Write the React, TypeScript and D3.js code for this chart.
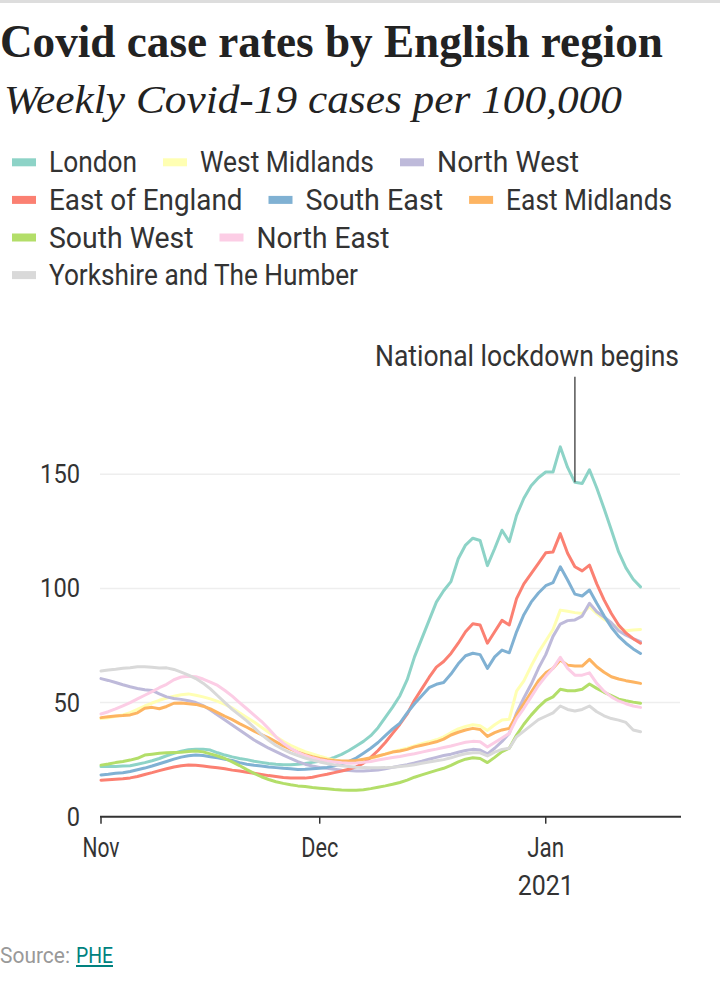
import React from "react";
import * as d3 from "d3";

// ---------- DATA ----------
const regions = [
  "London",
  "West Midlands",
  "North West",
  "East of England",
  "South East",
  "East Midlands",
  "South West",
  "North East",
  "Yorkshire and The Humber",
];

const startDate = "2020-11-01";

const london = [22, 22, 22, 22.2, 22.3, 23, 23.7, 24.5, 25.5, 26.7, 27.8, 28.7, 29.3, 29.6, 29.6, 29.2, 28, 27, 26.2, 25.5, 25, 24.3, 23.8, 23.3, 23, 22.8, 22.8, 23, 23.3, 23.8, 24.3, 25, 26, 27.3, 29, 31, 33, 35.5, 39, 43.5, 48, 53, 60, 70, 78, 86, 94, 99, 103, 113, 119, 122, 121, 110, 117.5, 125.5, 120.5, 132, 139.5, 145, 148.5, 151, 151, 162, 153, 146.5, 146, 152, 144, 135, 125.6, 116, 109, 104, 100.7];
const westMidlands = [43, 43.3, 44, 44.6, 45.6, 47, 48.5, 49.8, 51, 52, 52.8, 53.4, 53.8, 53.2, 52.5, 51.6, 50.5, 49.2, 47.6, 45.5, 43.5, 41.5, 39.2, 37, 35, 33, 31.3, 29.8, 28.5, 27.5, 26.5, 25.6, 24.8, 24.2, 23.8, 23.7, 24.8, 25.5, 26.5, 27.5, 28.5, 29.2, 30, 31, 32, 32.8, 33.7, 35, 36.8, 38.5, 39.5, 40.3, 39.8, 37.8, 40.3, 42.4, 42.7, 55, 59.5, 66, 72, 77, 82, 90.5, 90, 89.4, 89, 92, 89, 86.5, 84.5, 83, 81.5, 81.8, 82];
const northWest = [60.5, 59.7, 58.8, 57.8, 56.9, 56.2, 55.6, 55.3, 53.8, 52.5, 51.8, 51.4, 50.8, 50, 48.7, 46.7, 44.5, 42.4, 40.2, 38, 35.8, 33.6, 31.8, 30, 28.5, 27, 25.5, 24.1, 23, 22.2, 21.6, 21.2, 20.8, 20.4, 20.2, 20, 20, 20.2, 20.5, 21, 21.6, 22.2, 22.8, 23.5, 24.3, 25.2, 26, 26.8, 27.4, 28.2, 29, 29.5, 29.2, 27.5, 30, 33, 36.5, 45.5, 52, 58, 65, 71, 79, 84.4, 85.9, 86.2, 87.9, 93.5, 89.8, 87.5, 85, 81.5, 79.5, 78, 76.7];
const eastOfEngland = [16, 16.2, 16.4, 16.6, 17, 17.6, 18.5, 19.3, 20.2, 21, 21.8, 22.3, 22.6, 22.5, 22.2, 21.8, 21.4, 21, 20.4, 20, 19.5, 19, 18.5, 18, 17.6, 17.2, 17, 16.9, 16.9, 17.3, 18, 18.6, 19.3, 20, 20.8, 21.8, 23.5, 26, 29, 32.5, 36.5, 40.5, 45, 51, 56, 61, 65.5, 68, 71.5, 76, 81, 84.5, 84, 76, 81, 86, 84, 95.5, 102, 106.5, 111, 115.6, 116, 124, 115.4, 109.5, 107.7, 110.2, 102, 95, 89, 84, 80.5, 78, 76];
const southEast = [18.3, 18.6, 19, 19.3, 19.8, 20.6, 21.3, 22.2, 23.2, 24.2, 25.2, 26.1, 26.7, 27, 26.8, 26.3, 25.8, 25.2, 24.6, 23.7, 23, 22.5, 22.2, 21.8, 21.5, 21.2, 21, 20.7, 20.8, 21, 21.2, 21.6, 22.3, 23.2, 24.2, 25.7, 27.8, 30, 32.5, 35.5, 38.5, 41, 45.5, 49.5, 53, 56.5, 58, 58.8, 62.5, 67, 70.5, 71.6, 71, 65, 70, 73, 71.8, 81, 88.5, 94, 98, 101.2, 102.5, 109.5, 103.7, 97.5, 96.7, 99.3, 93.5, 88, 83, 79, 76, 73.5, 71.5];
const eastMidlands = [43.4, 43.8, 44.1, 44.3, 44.6, 45.5, 47.5, 47.9, 47.3, 48.3, 49.7, 49.8, 49.5, 49.2, 48.4, 47.2, 45.6, 44, 42.5, 40.8, 39.2, 37.5, 36, 34.5, 32.8, 31, 29.6, 28.3, 27.2, 26.3, 25.5, 25, 24.6, 24.4, 24.4, 24.6, 25.2, 25.8, 26.6, 27.4, 28.3, 28.8, 29.5, 30.6, 31.3, 32, 32.8, 34, 35.8, 37, 38, 38.7, 38.2, 35.2, 36.8, 38, 38.7, 44.5, 49.5, 54.5, 59.5, 63, 65, 68.6, 66.4, 66, 66, 68.9, 65.7, 63.3, 61.3, 60.3, 59.6, 59, 58.4];
const southWest = [22.6, 23.1, 23.7, 24.2, 24.8, 25.6, 27, 27.4, 27.8, 28, 28.1, 28.2, 28.6, 28.8, 28.4, 27.5, 26.6, 25.5, 24, 22.4, 20.6, 19, 17.5, 16.3, 15.3, 14.6, 14, 13.5, 13.2, 12.8, 12.5, 12.2, 11.9, 11.7, 11.6, 11.6, 11.8, 12.3, 12.9, 13.5, 14.2, 15, 16, 17.3, 18.3, 19.3, 20.3, 21.2, 22.5, 24, 25.2, 25.8, 25.5, 23.7, 26, 28.5, 30, 35.8, 40.5, 44.5, 48, 51, 52.5, 55.8, 55.2, 55.2, 55.8, 58.1, 56.2, 54.5, 53, 51.5, 50.8, 50.2, 49.7];
const northEast = [45, 46, 47.2, 48.6, 50, 51.6, 53.2, 54.8, 56.5, 58, 60, 61.2, 61.5, 61.3, 60.3, 59, 57.5, 55.3, 52.8, 50, 47.3, 44.5, 41.8, 38.5, 35, 32.2, 30, 28.2, 26.8, 25.8, 25, 24.4, 24, 23.6, 23.4, 23.5, 23.8, 24.2, 24.8, 25.4, 25.9, 26.4, 27, 27.6, 28.3, 29, 29.6, 30.3, 31, 31.8, 32.6, 33, 32.8, 30.5, 32.5, 34.5, 36.5, 43, 47.5, 52.5, 57.5, 61.5, 65, 69.8, 65, 62, 62, 63, 58.4, 55, 52.5, 50.7, 49.5, 48.5, 47.9];
const yorkshire = [63.8, 64.3, 64.6, 65, 65.3, 65.7, 65.7, 65.5, 65.1, 65.2, 64.5, 63.3, 62, 60.5, 58.5, 56, 53, 50, 47, 44.5, 42, 39, 36, 33.5, 31.2, 29.5, 28, 26.8, 25.7, 24.8, 24, 23.3, 22.7, 22.3, 22, 21.7, 21.5, 21.4, 21.4, 21.5, 21.7, 22, 22.3, 22.8, 23.4, 24, 24.5, 25, 25.8, 26.8, 27.6, 28, 28, 26.6, 28.3, 29.5, 30, 35, 37.5, 40, 42.5, 44, 45.5, 48.5, 47, 46.3, 47, 48.5, 46, 44.2, 43, 42.3, 41.3, 38, 37.2];

const seriesValues = [london, westMidlands, northWest, eastOfEngland, southEast, eastMidlands, southWest, northEast, yorkshire];

const yTicks = [0, 50, 100, 150];
const xTickDates = ["2020-11-01", "2020-12-01", "2021-01-01"];
const xTickLabels = ["Nov", "Dec", "Jan"];
const yearLabel = "2021";
const lockdownDate = "2021-01-05";
const lockdownLabel = "National lockdown begins";

const title = "Covid case rates by English region";
const subtitle = "Weekly Covid-19 cases per 100,000";

// ---------- STYLE ----------
const colors = d3.schemeSet3.slice(0, 9);
const legendTextWidths: Record<string, number> = {
  "London": 88,
  "West Midlands": 174,
  "North West": 142,
  "East of England": 193.5,
  "South East": 137.6,
  "East Midlands": 166,
  "South West": 144.5,
  "North East": 133,
  "Yorkshire and The Humber": 309,
};
const SANS = "Roboto, 'Liberation Sans', sans-serif";
const SERIF = "'Liberation Serif', 'DejaVu Serif', serif";
const TEXT = "#333333";

export default function App() {
  const width = 720;
  const height = 992;
  const parse = d3.utcParse("%Y-%m-%d");
  const start = parse(startDate)!;
  const dates = seriesValues[0].map((_, i) => d3.utcDay.offset(start, i));

  const x = d3
    .scaleUtc()
    .domain([start, d3.utcHour.offset(parse("2021-01-19")!, 10)])
    .range([101, 680]);
  const y = d3.scaleLinear().domain([0, 150]).range([816.7, 474.3]);

  const line = d3
    .line<number>()
    .x((_, i) => x(dates[i]))
    .y((v) => y(v))
    .curve(d3.curveLinear);

  // legend layout
  const legendItems: { name: string; color: string; x: number; row: number }[] = [];
  let cx = 12;
  let row = 0;
  regions.forEach((name, i) => {
    const w = 24 + 13 + legendTextWidths[name];
    if (cx + w > 700) {
      row += 1;
      cx = 12;
    }
    legendItems.push({ name, color: colors[i], x: cx, row });
    cx += w + 26;
  });
  const rowBaseline = (r: number) => 172.3 + r * 37.6;

  const lockDate = parse(lockdownDate)!;
  const lockX = x(lockDate);
  const lockIdx = d3.utcDay.count(start, lockDate);
  const lockY = y(london[lockIdx]);

  return (
    <svg
      width={width}
      height={height}
      style={{ position: "absolute", left: 0, top: 0, background: "#fff" }}
    >
      <rect x={0} y={0} width={width} height={height} fill="#fff" />
      <rect x={0} y={0} width={width} height={3} fill="#dddddd" />

      <text
        x={0}
        y={57}
        fontFamily={SERIF}
        fontWeight={700}
        fontSize={47}
        fill="#222"
        textLength={663}
        lengthAdjust="spacingAndGlyphs"
      >
        {title}
      </text>
      <text
        x={4}
        y={113}
        fontFamily={SERIF}
        fontStyle="italic"
        fontSize={41}
        fill="#222"
        textLength={618}
        lengthAdjust="spacingAndGlyphs"
      >
        {subtitle}
      </text>

      {legendItems.map((it) => (
        <g key={it.name}>
          <rect x={it.x} y={rowBaseline(it.row) - 14} width={24} height={8} fill={it.color} />
          <text
            x={it.x + 37}
            y={rowBaseline(it.row)}
            fontFamily={SANS}
            fontSize={30}
            fill={TEXT}
            textLength={legendTextWidths[it.name]}
            lengthAdjust="spacingAndGlyphs"
          >
            {it.name}
          </text>
        </g>
      ))}

      {/* gridlines */}
      {yTicks
        .filter((t) => t > 0)
        .map((t) => (
          <line key={t} x1={100} x2={680} y1={y(t)} y2={y(t)} stroke="#eeeeee" strokeWidth={1.5} />
        ))}
      {yTicks.map((t) => (
        <text
          key={t}
          x={80}
          y={y(t) + 9}
          textAnchor="end"
          fontFamily={SANS}
          fontSize={26}
          fill={TEXT}
          textLength={String(t).length * 13.3}
          lengthAdjust="spacingAndGlyphs"
        >
          {t}
        </text>
      ))}

      {/* lines */}
      {seriesValues.map((vals, i) => (
        <path
          key={regions[i]}
          d={line(vals) || ""}
          fill="none"
          stroke={colors[i]}
          strokeWidth={3}
          strokeLinejoin="round"
          strokeLinecap="round"
        />
      ))}

      {/* x axis */}
      <line x1={100} x2={681} y1={y(0)} y2={y(0)} stroke="#333" strokeWidth={2} />
      {xTickDates.map((d, i) => {
        const xx = x(parse(d)!);
        return (
          <g key={d}>
            <line x1={xx} x2={xx} y1={y(0)} y2={y(0) + 7} stroke="#333" strokeWidth={1.5} />
            <text
              x={xx}
              y={857}
              textAnchor="middle"
              fontFamily={SANS}
              fontSize={27}
              fill={TEXT}
              textLength={37}
              lengthAdjust="spacingAndGlyphs"
            >
              {xTickLabels[i]}
            </text>
          </g>
        );
      })}
      <text
        x={x(parse(xTickDates[2])!)}
        y={895}
        textAnchor="middle"
        fontFamily={SANS}
        fontSize={27}
        fill={TEXT}
        textLength={56}
        lengthAdjust="spacingAndGlyphs"
      >
        {yearLabel}
      </text>

      {/* annotation */}
      <line x1={lockX} x2={lockX} y1={376.7} y2={lockY} stroke="#555" strokeWidth={1.5} />
      <text
        x={679}
        y={366}
        textAnchor="end"
        fontFamily={SANS}
        fontSize={29}
        fill={TEXT}
        textLength={304}
        lengthAdjust="spacingAndGlyphs"
      >
        {lockdownLabel}
      </text>

      {/* source */}
      <text
        x={0}
        y={963}
        fontFamily={SANS}
        fontSize={22}
        fill="#999"
        textLength={70}
        lengthAdjust="spacingAndGlyphs"
      >
        Source:
      </text>
      <text
        x={76}
        y={963}
        fontFamily={SANS}
        fontSize={22}
        fill="#00827f"
        textLength={37}
        lengthAdjust="spacingAndGlyphs"
      >
        PHE
      </text>
      <line x1={76} x2={113} y1={966} y2={966} stroke="#00827f" strokeWidth={2} />
    </svg>
  );
}
